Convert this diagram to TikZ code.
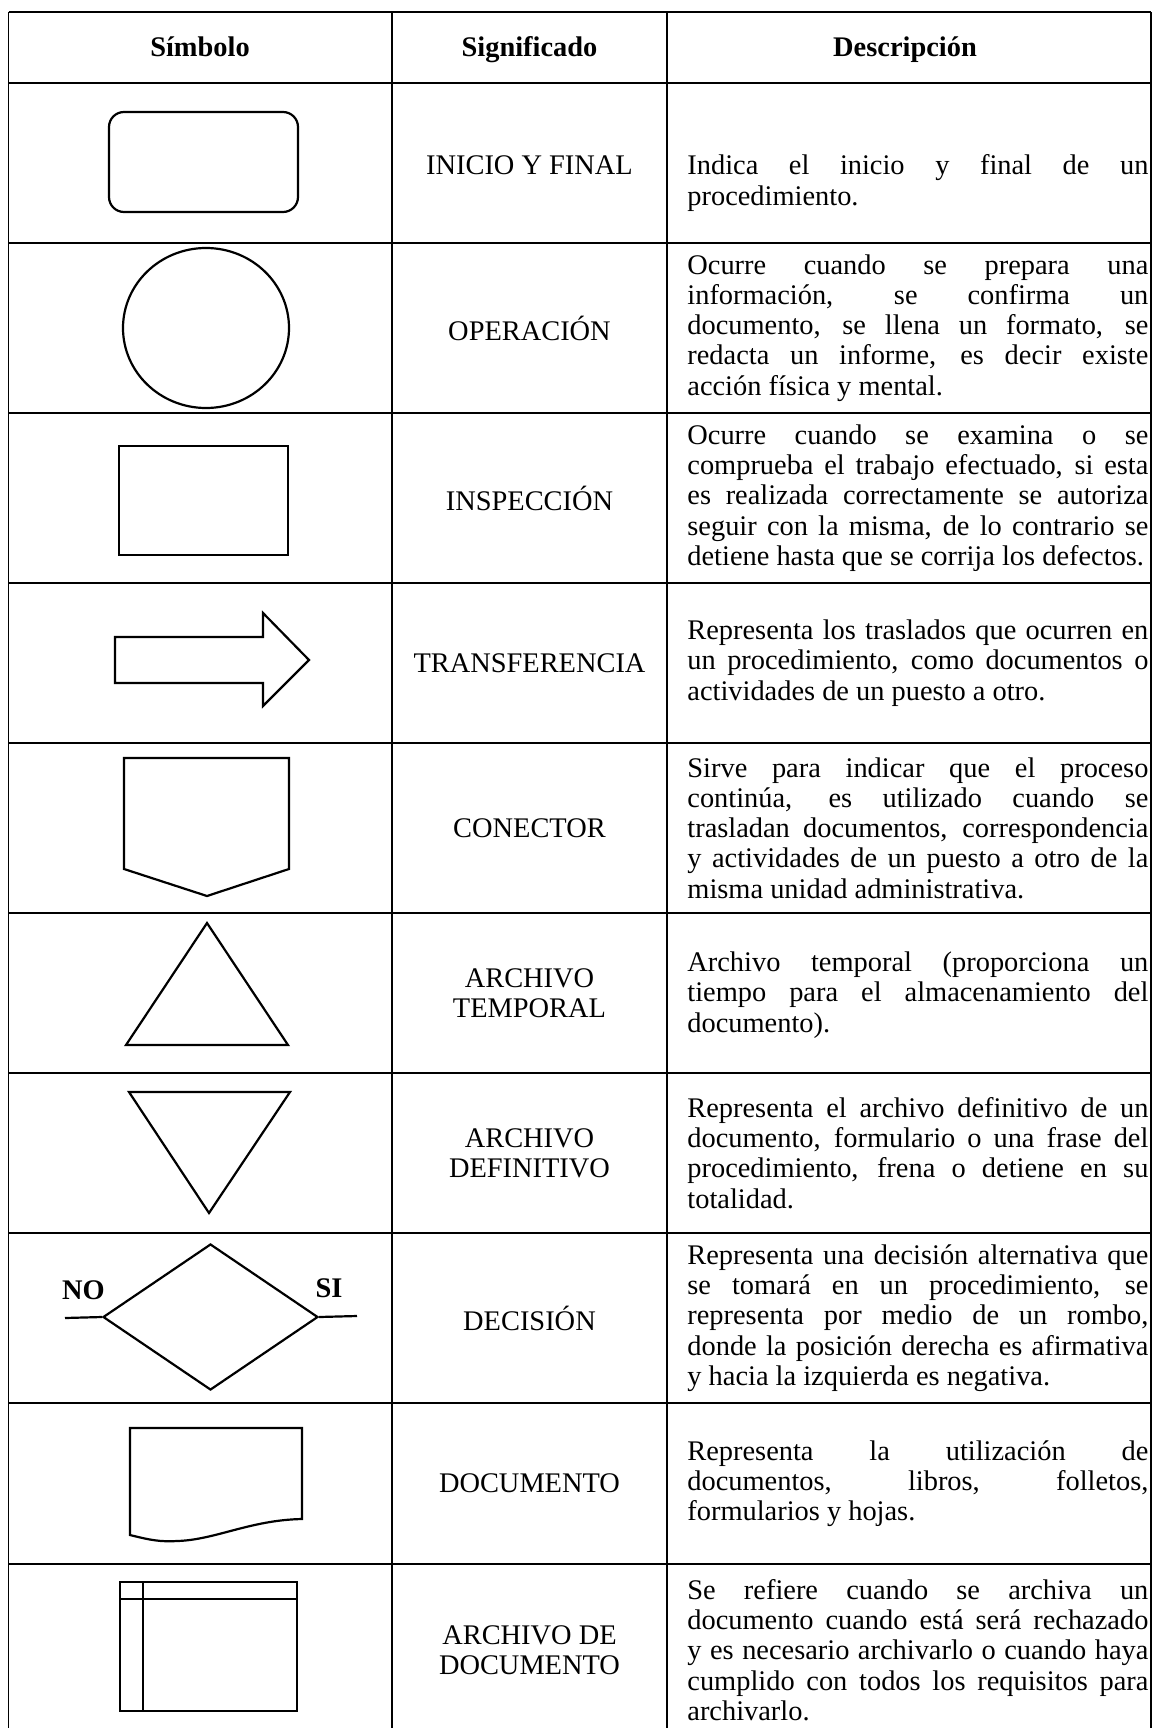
\documentclass[tikz,border=0pt]{standalone}
\usepackage{fontspec}
\setmainfont{Liberation Serif}
\usetikzlibrary{shapes.geometric}
\hyphenpenalty=10000
\exhyphenpenalty=10000
\hbadness=10000

\begin{document}
\begin{tikzpicture}[x=0.5pt,y=-0.5pt,
   font=\fontsize{14.2pt}{15.1pt}\selectfont,
   grid/.style={line width=0.6pt},
   sym/.style={line width=1.1pt,line join=miter},
   head/.style={inner sep=0pt,anchor=base,font=\fontsize{14.2pt}{15.1pt}\selectfont\bfseries},
   sig/.style={align=center,inner sep=0pt},
   desc/.style={anchor=west,text width=230.5pt,align=justify,inner sep=0pt}]
\useasboundingbox (0,0) rectangle (1153,1728);
\clip (0,0) rectangle (1153,1728);

\draw[grid] (8.5,12) -- (1151,12) (8.5,83) -- (1151,83) (8.5,243) -- (1151,243)
   (8.5,413) -- (1151,413) (8.5,583) -- (1151,583) (8.5,743) -- (1151,743)
   (8.5,913) -- (1151,913) (8.5,1073) -- (1151,1073) (8.5,1233) -- (1151,1233)
   (8.5,1403) -- (1151,1403) (8.5,1564) -- (1151,1564);
\draw[grid] (8.5,12) -- (8.5,1740) (392,12) -- (392,1740)
   (667,12) -- (667,1740) (1151,12) -- (1151,1740);

\node[head] (h1) at (200,57) {Símbolo};
\node[head] (h2) at (529.5,57) {Significado};
\node[head] (h3) at (905,57) {Descripción};

\draw[sym,rounded corners=7.5pt] (109,112) rectangle (298,212);
\draw[sym] (206,328) ellipse [x radius=83,y radius=80];
\draw[sym] (119,446) rectangle (288,555);
\draw[sym] (115,637) -- (263,637) -- (263,613) -- (309,660) -- (263,706)
   -- (263,683) -- (115,683) -- cycle;
\draw[sym] (124,758) -- (289,758) -- (289,869) -- (207,896) -- (124,869) -- cycle;
\draw[sym] (207,923) -- (288,1045) -- (126,1045) -- cycle;
\draw[sym] (129,1092) -- (290,1092) -- (209,1213) -- cycle;
\node[sym,draw,diamond,inner sep=0pt,minimum width=107.5pt,minimum height=73pt]
   (rombo) at (210.5,1317) {};
\coordinate (noend) at (65,1318);
\coordinate (siend) at (357,1316);
\draw[sym] (noend) -- (rombo.west);
\draw[sym] (rombo.east) -- (siend);
\node[head] (no) at (83.5,1299) {NO};
\node[head] (si) at (329,1297) {SI};
\draw[sym] (130,1535) -- (130,1428) -- (302,1428) -- (302,1519)
   .. controls (250,1520) and (215,1540) .. (177,1541)
   .. controls (160,1542) and (150,1540) .. (130,1535) -- cycle;
\draw[sym] (120,1582) rectangle (297,1711);
\draw[sym] (120,1599) -- (297,1599);
\draw[sym] (143,1582) -- (143,1711);

\node[sig] (s1) at (529.5,165) {INICIO Y FINAL};
\node[sig] (s2) at (529.5,328) {OPERACIÓN};
\node[sig] (s3) at (529.5,498) {INSPECCIÓN};
\node[sig] (s4) at (529.5,663) {TRANSFERENCIA};
\node[sig] (s5) at (529.5,828) {CONECTOR};
\node[sig] (s6) at (529.5,993) {ARCHIVO\\TEMPORAL};
\node[sig] (s7) at (529.5,1153) {ARCHIVO\\DEFINITIVO};
\node[sig] (s8) at (529.5,1318) {DECISIÓN};
\node[sig] (s9) at (529.5,1483.5) {DOCUMENTO};
\node[sig] (s10) at (529.5,1650) {ARCHIVO DE\\DOCUMENTO};

\node[desc] (d1) at (687,183) {Indica el inicio y final de un\linebreak
   procedimiento.};
\node[desc] (d2) at (687,328) {Ocurre cuando se prepara una\linebreak
   información, se confirma un\linebreak
   documento, se llena un formato, se\linebreak
   redacta un informe, es decir existe\linebreak
   acción física y mental.};
\node[desc] (d3) at (687,498) {Ocurre cuando se examina o se\linebreak
   comprueba el trabajo efectuado, si esta\linebreak
   es realizada correctamente se autoriza\linebreak
   seguir con la misma, de lo contrario se\linebreak
   detiene hasta que se corrija los defectos.};
\node[desc] (d4) at (687,663) {Representa los traslados que ocurren en\linebreak
   un procedimiento, como documentos o\linebreak
   actividades de un puesto a otro.};
\node[desc] (d5) at (687,828) {Sirve para indicar que el proceso\linebreak
   continúa, es utilizado cuando se\linebreak
   trasladan documentos, correspondencia\linebreak
   y actividades de un puesto a otro de la\linebreak
   misma unidad administrativa.};
\node[desc] (d6) at (687,995) {Archivo temporal (proporciona un\linebreak
   tiempo para el almacenamiento del\linebreak
   documento).};
\node[desc] (d7) at (687,1153) {Representa el archivo definitivo de un\linebreak
   documento, formulario o una frase del\linebreak
   procedimiento, frena o detiene en su\linebreak
   totalidad.};
\node[desc] (d8) at (687,1318) {Representa una decisión alternativa que\linebreak
   se tomará en un procedimiento, se\linebreak
   representa por medio de un rombo,\linebreak
   donde la posición derecha es afirmativa\linebreak
   y hacia la izquierda es negativa.};
\node[desc] (d9) at (687,1483.5) {Representa la utilización de\linebreak
   documentos, libros, folletos,\linebreak
   formularios y hojas.};
\node[desc] (d10) at (687,1650) {Se refiere cuando se archiva un\linebreak
   documento cuando está será rechazado\linebreak
   y es necesario archivarlo o cuando haya\linebreak
   cumplido con todos los requisitos para\linebreak
   archivarlo.};
\end{tikzpicture}
\end{document}
